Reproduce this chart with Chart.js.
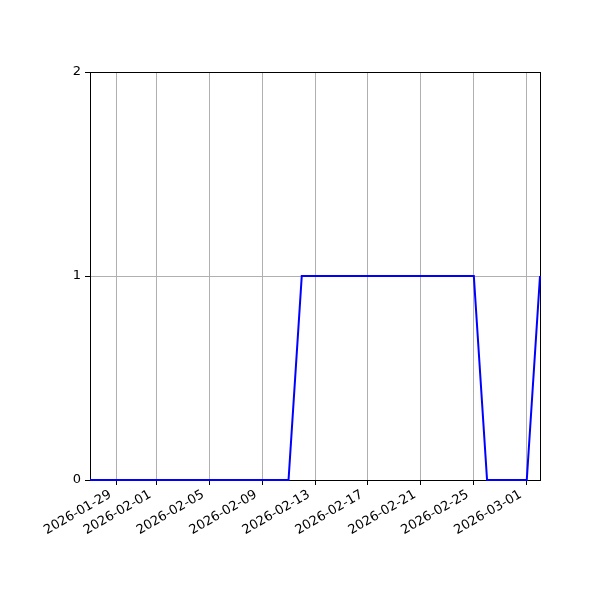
<!DOCTYPE html>
<html>
<head>
<meta charset="utf-8">
<script src="https://cdn.jsdelivr.net/npm/chart.js@4/dist/chart.umd.min.js"></script>
<style>
html,body{margin:0;padding:0;background:#fff;}
canvas{display:block;}
</style>
</head>
<body>
<canvas id="c" width="600" height="600"></canvas>
<script>
const dates = [
  '2026-01-27','2026-01-28','2026-01-29','2026-01-30','2026-01-31',
  '2026-02-01','2026-02-02','2026-02-03','2026-02-04','2026-02-05','2026-02-06','2026-02-07',
  '2026-02-08','2026-02-09','2026-02-10','2026-02-11','2026-02-12','2026-02-13','2026-02-14',
  '2026-02-15','2026-02-16','2026-02-17','2026-02-18','2026-02-19','2026-02-20','2026-02-21',
  '2026-02-22','2026-02-23','2026-02-24','2026-02-25','2026-02-26','2026-02-27','2026-02-28',
  '2026-03-01','2026-03-02'
];
const values = [
  0,0,0,0,0,
  0,0,0,0,0,0,0,
  0,0,0,0,1,1,1,
  1,1,1,1,1,1,1,
  1,1,1,1,0,0,0,
  0,1
];
const xTickLabels = ['2026-01-29','2026-02-01','2026-02-05','2026-02-09','2026-02-13','2026-02-17','2026-02-21','2026-02-25','2026-03-01'];
const yTicks = [0, 1, 2];

const DAY = 86400000;
function dayNum(s){ const p = s.split('-').map(Number); return Date.UTC(p[0], p[1]-1, p[2]) / DAY; }
function fmt(n){ const d = new Date(n*DAY); return d.toISOString().slice(0,10); }

const points = dates.map((d,i)=>({x: dayNum(d), y: values[i]}));
const xTickVals = xTickLabels.map(dayNum);

const framePlugin = {
  id: 'frame',
  beforeDatasetsDraw(chart){
    const a = chart.chartArea, ctx = chart.ctx;
    ctx.save();
    ctx.strokeStyle = '#000';
    ctx.lineWidth = 1;
    ctx.strokeRect(Math.round(a.left)+0.5, Math.round(a.top)+0.5, Math.round(a.right-a.left), Math.round(a.bottom-a.top));
    ctx.restore();
  }
};

new Chart(document.getElementById('c'), {
  type: 'line',
  data: {
    datasets: [{
      data: points,
      borderColor: '#0000ff',
      borderWidth: 2,
      pointRadius: 0,
      tension: 0,
      fill: false,
      clip: 2
    }]
  },
  options: {
    responsive: false,
    animation: false,
    layout: { padding: { left: 0, top: 72, right: 60, bottom: 0 } },
    plugins: { legend: { display: false }, tooltip: { enabled: false } },
    font: { family: 'DejaVu Sans' },
    scales: {
      x: {
        type: 'linear',
        min: dayNum(dates[0]),
        max: dayNum(dates[dates.length-1]),
        afterBuildTicks(scale){ scale.ticks = xTickVals.map(v=>({value: v})); },
        afterFit(scale){ scale.height = 120; },
        grid: { color: '#b0b0b0', lineWidth: 1, tickColor: '#000', tickLength: 5, drawTicks: true },
        border: { display: false },
        ticks: {
          autoSkip: false,
          maxRotation: 30, minRotation: 30,
          padding: 2,
          labelOffset: -6,
          color: '#000',
          font: { family: 'DejaVu Sans', size: 13 },
          callback: (v)=>fmt(v)
        }
      },
      y: {
        type: 'linear',
        min: 0, max: 2,
        afterBuildTicks(scale){ scale.ticks = yTicks.map(v=>({value: v})); },
        afterFit(scale){ scale.width = 90; },
        grid: { color: '#b0b0b0', lineWidth: 1, tickColor: '#000', tickLength: 5, drawTicks: true },
        border: { display: false },
        ticks: {
          padding: 4,
          color: '#000',
          font: { family: 'DejaVu Sans', size: 13 },
          callback: (v)=>String(v)
        }
      }
    }
  },
  plugins: [framePlugin]
});
</script>
</body>
</html>
